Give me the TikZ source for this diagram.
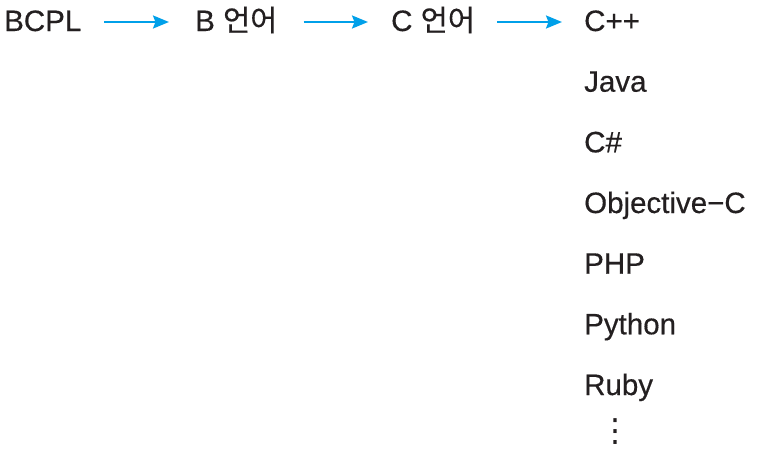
\documentclass[tikz,border=0pt]{standalone}
\usepackage{fontspec}
\setmainfont{Liberation Sans}[FakeBold=0.4]
\newfontfamily\krfont{Noto Sans CJK KR}[FakeBold=0.3]
\newfontfamily\symfont{DejaVu Sans}
\usetikzlibrary{arrows.meta}
\definecolor{arrowblue}{RGB}{0,160,233}
\definecolor{inkblack}{RGB}{35,31,32}
\tikzset{
  lang/.style={inner sep=0pt,text height=19pt,text depth=1pt,anchor=base west,
    text=inkblack,font=\fontsize{29.5}{34}\selectfont},
  flow/.style={draw=arrowblue,line width=2.2pt,
    -{Stealth[length=16pt,width=13pt,inset=2.5pt]},shorten <=23pt,shorten >=26pt}
}
\begin{document}
\begin{tikzpicture}[x=1pt,y=-1pt]
\useasboundingbox (0,0) rectangle (764,471);
\node[lang] (bcpl) at (4,31){BCPL};
\node[lang] (blang) at (195,31){B {\krfont 언어}};
\node[lang] (clang) at (391,31){C {\krfont 언어}};
\node[lang] (cpp) at (584,31){C++};
\node[lang] (java) at (584,91.7){Java};
\node[lang] (csharp) at (584,152.3){C\#};
\node[lang] (objc) at (584,213){Objective−C};
\node[lang] (php) at (584,273.7){PHP};
\node[lang] (python) at (584,334.3){Python};
\node[lang] (ruby) at (584,395){Ruby};
\node[inner sep=0pt,text=inkblack,font=\symfont\fontsize{32}{34}\selectfont]
  (more) at (615,432){⋮};
\draw[flow] (bcpl) -- (blang);
\draw[flow,shorten <=26pt,shorten >=23pt] (blang) -- (clang);
\draw[flow,shorten <=22pt,shorten >=22pt] (clang) -- (cpp);
\end{tikzpicture}
\end{document}
